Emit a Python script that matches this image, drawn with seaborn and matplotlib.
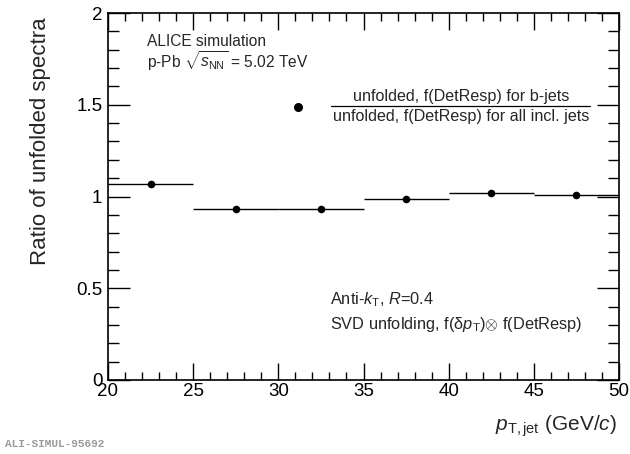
import matplotlib
matplotlib.use("Agg")
import matplotlib.pyplot as plt
import seaborn as sns
import numpy as np
import pandas as pd
from matplotlib.ticker import MultipleLocator

bin_lo = [20, 25, 30, 35, 40, 45]
bin_hi = [25, 30, 35, 40, 45, 50]
ratio = [1.070, 0.930, 0.930, 0.988, 1.020, 1.006]

x_ticks = [20, 25, 30, 35, 40, 45, 50]
y_ticks = [0, 0.5, 1, 1.5, 2]
y_tick_labels = ["0", "0.5", "1", "1.5", "2"]

sns.set_theme(style="ticks")
plt.rcParams['font.family'] = ['Liberation Sans', 'DejaVu Sans']
plt.rcParams['mathtext.fontset'] = 'custom'
plt.rcParams['mathtext.rm'] = 'Liberation Sans'
plt.rcParams['mathtext.it'] = 'Liberation Sans:italic'

df = pd.DataFrame({
    "lo": bin_lo, "hi": bin_hi, "ratio": ratio,
})
df["center"] = (df["lo"] + df["hi"]) / 2
df["half"] = (df["hi"] - df["lo"]) / 2

fig = plt.figure(figsize=(6.3, 4.54), dpi=100)
ax = fig.add_axes([108/630, 1-380/454, (619-108)/630, (380-13)/454])

ax.errorbar(df["center"], df["ratio"], xerr=df["half"], fmt="none",
            ecolor="black", elinewidth=1.0, capsize=0, zorder=2)
sns.scatterplot(data=df, x="center", y="ratio", ax=ax, color="black",
                s=30, edgecolor="black", linewidth=0, zorder=3, legend=False)

ax.set_xlim(20, 50)
ax.set_ylim(0, 2)
ax.set_xticks(x_ticks)
ax.set_xticklabels([str(t) for t in x_ticks])
ax.set_yticks(y_ticks)
ax.set_yticklabels(y_tick_labels)
ax.xaxis.set_minor_locator(MultipleLocator(1))
ax.yaxis.set_minor_locator(MultipleLocator(0.1))
ax.tick_params(which="both", direction="in", top=True, right=True,
               labelsize=13.5, colors="black", width=1)
ax.tick_params(axis="x", which="major", length=12, pad=2)
ax.tick_params(axis="x", which="minor", length=6)
ax.tick_params(axis="y", which="major", length=16, pad=4)
ax.tick_params(axis="y", which="minor", length=8)
for sp in ax.spines.values():
    sp.set_linewidth(1.2)
    sp.set_color("black")

ax.set_xlabel("")
ax.set_ylabel("")
fig.text(41/630, 1-141/454, "Ratio of unfolded spectra", rotation=90,
         ha="center", va="center", fontsize=16)
fig.text(617/630, 1-426/454, r"$p_{\mathregular{T,jet}}$ (GeV/$c$)",
         ha="right", va="center", fontsize=15)

fig.text(147/630, 1-42/454, "ALICE simulation", ha="left", va="center", fontsize=11.2)
fig.text(147/630, 1-61/454, r"p-Pb $\sqrt{s_{\mathregular{NN}}}$ = 5.02 TeV",
         ha="left", va="center", fontsize=11.2)

ax.plot([31.15], [1.49], "o", color="black", markersize=5.5, transform=ax.transData)
fig.text(461/630, 1-96/454, "unfolded, f(DetResp) for b-jets",
         ha="center", va="center", fontsize=11.6)
fig.text(461/630, 1-116/454, "unfolded, f(DetResp) for all incl. jets",
         ha="center", va="center", fontsize=11.6)
fig.add_artist(plt.Line2D([331/630, 590/630], [1-106/454, 1-106/454],
                          color="black", linewidth=0.9))

fig.text(330/630, 1-300/454, r"Anti-$k_{\mathregular{T}}$, $R$=0.4",
         ha="left", va="center", fontsize=11.8)
fig.text(330/630, 1-325/454, r"SVD unfolding, f(δ$p_{\mathregular{T}}$)$\otimes$ f(DetResp)",
         ha="left", va="center", fontsize=11.8)

fig.text(5/630, 1-444/454, "ALI-SIMUL-95692", ha="left", va="center",
         fontsize=8, family="Liberation Mono", weight="bold", color="#999999")

fig.savefig("out.png", dpi=100)
